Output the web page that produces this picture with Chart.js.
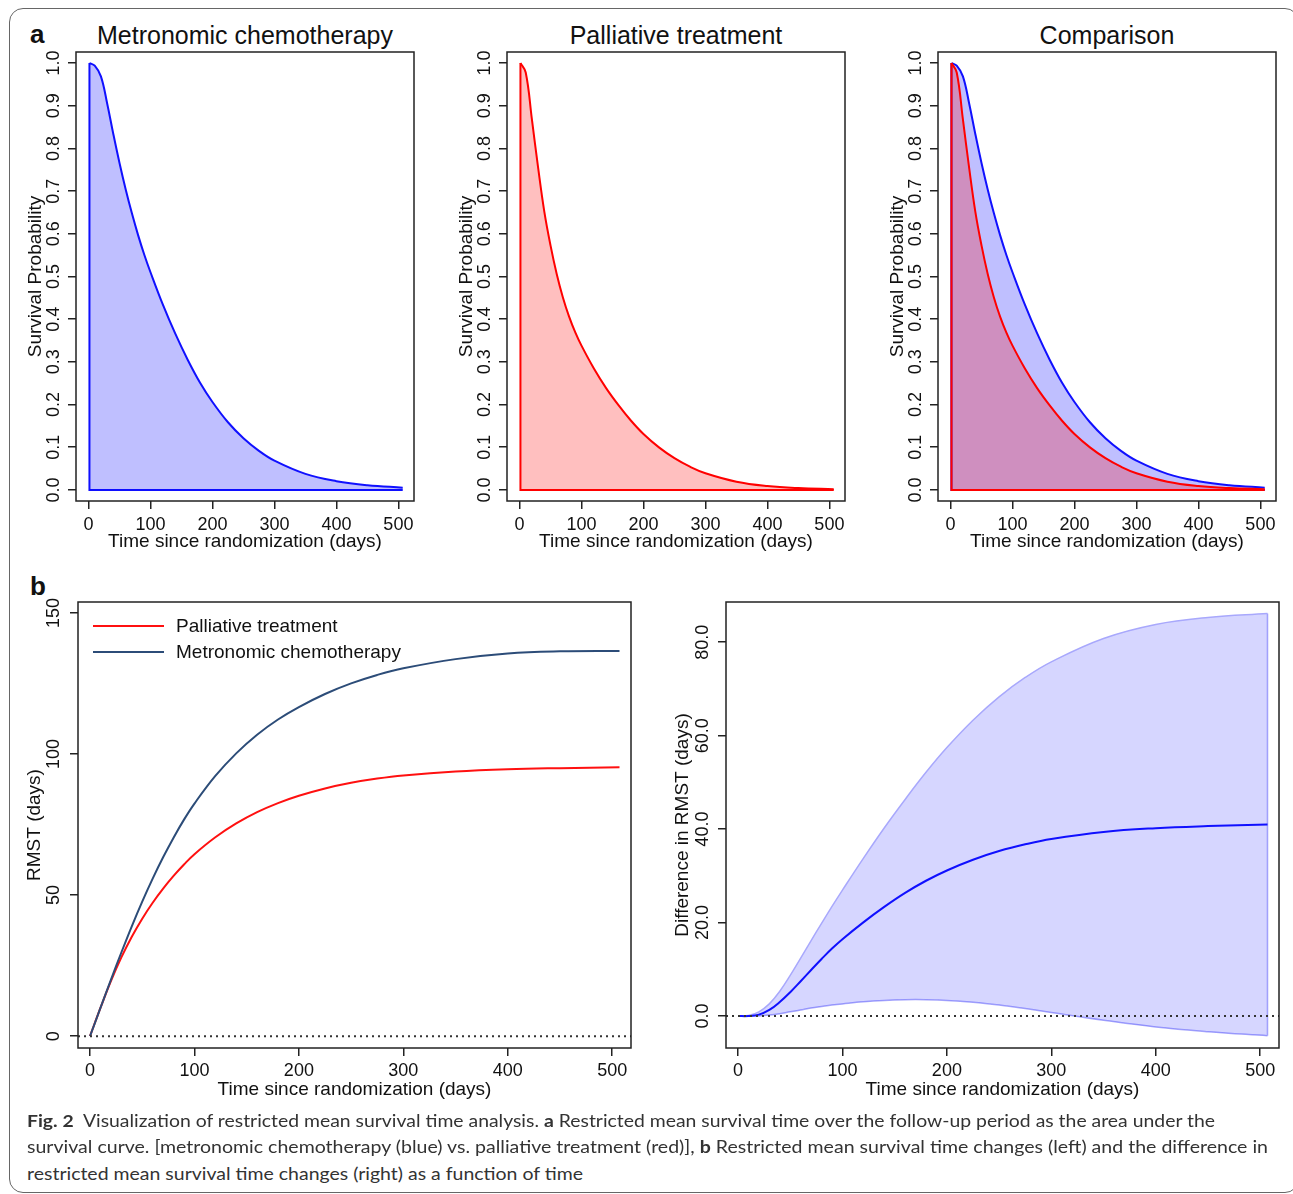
<!DOCTYPE html>
<html>
<head>
<meta charset="utf-8">
<script src="https://cdn.jsdelivr.net/npm/chart.js@4.4.1/dist/chart.umd.min.js"></script>
<style>
  body { margin: 0; background: #fff; width: 1293px; height: 1194px; overflow: hidden; position: relative;
         font-family: 'Liberation Sans', Arial, sans-serif; color: #111; }
  .frame { position: absolute; left: 9px; top: 8px; width: 1290px; height: 1185px; border: 1px solid #666;
           border-radius: 14px; box-sizing: border-box; }
  .letter { position: absolute; font-weight: bold; font-size: 26px; line-height: 1; }
  .title { position: absolute; font-size: 25px; line-height: 1; white-space: nowrap; transform: translateX(-50%); }
  canvas { position: absolute; }
  .cap { position: absolute; left: 27px; font-family: Lato, 'Noto Sans', sans-serif; font-size: 17.5px;
         line-height: 20px; color: #333; white-space: nowrap; display: inline-block; transform-origin: 0 50%; }
</style>
</head>
<body>
<div class="frame"></div>
<div class="letter" style="left:30px; top:21px;">a</div>
<div class="letter" style="left:30px; top:573px;">b</div>
<div class="title" style="left:245px; top:23px;">Metronomic chemotherapy</div>
<div class="title" style="left:676px; top:23px;">Palliative treatment</div>
<div class="title" style="left:1107px; top:23px;">Comparison</div>

<canvas id="a1"></canvas>
<canvas id="a2"></canvas>
<canvas id="a3"></canvas>
<canvas id="b1"></canvas>
<canvas id="b2"></canvas>

<div class="cap" data-w="1188" style="top:1111px;"><b>Fig. 2</b>&nbsp; Visualization of restricted mean survival time analysis. <b>a</b> Restricted mean survival time over the follow-up period as the area under the</div>
<div class="cap" data-w="1241" style="top:1137px;">survival curve. [metronomic chemotherapy (blue) vs. palliative treatment (red)], <b>b</b> Restricted mean survival time changes (left) and the difference in</div>
<div class="cap" data-w="556" style="top:1164px;">restricted mean survival time changes (right) as a function of time</div>

<script>
// Values
const survTime = [1.5, 10, 20, 30, 40, 50, 60, 70, 80, 90, 100, 120, 140, 160, 180, 200, 225, 250, 275, 300, 350, 400, 450, 507];
const metroSurv = [1.0, 0.994, 0.969, 0.906, 0.834, 0.766, 0.704, 0.648, 0.597, 0.551, 0.510, 0.434, 0.366, 0.305, 0.251, 0.206, 0.1585, 0.121, 0.0915, 0.0685, 0.0375, 0.0205, 0.011, 0.0053];
const palSurv = [1.0, 0.978, 0.868, 0.755, 0.652, 0.573, 0.506, 0.451, 0.406, 0.369, 0.338, 0.2845, 0.238, 0.198, 0.162, 0.131, 0.0997, 0.0744, 0.0544, 0.0391, 0.0193, 0.0091, 0.0042, 0.0017];

const rmstTime = [0, 10, 20, 30, 40, 50, 60, 70, 80, 90, 100, 120, 140, 160, 180, 200, 225, 250, 275, 300, 350, 400, 450, 507];
const metroRmst = [0, 10, 19.95, 29.65, 38.95, 47.7, 55.85, 63.4, 70.35, 76.75, 82.45, 92.25, 100.25, 106.85, 112.25, 116.65, 121.3, 125.05, 128.05, 130.4, 133.65, 135.65, 136.4, 136.55];
const palRmst = [0, 10, 19.5, 27.9, 35.25, 41.65, 47.3, 52.3, 56.8, 60.85, 64.5, 70.5, 75.4, 79.4, 82.6, 85.2, 87.8, 89.8, 91.3, 92.4, 93.8, 94.6, 95.0, 95.3];
const diffMean = [0, 0, 0.3, 1.3, 3.0, 5.1, 7.45, 9.85, 12.2, 14.45, 16.45, 20.05, 23.35, 26.35, 28.95, 31.15, 33.45, 35.3, 36.75, 37.9, 39.4, 40.2, 40.65, 41.0];
const diffUpper = [0, 0.1, 0.9, 2.6, 5.3, 8.7, 12.4, 16.15, 19.85, 23.45, 26.95, 33.75, 40.25, 46.35, 52.15, 57.45, 63.3, 68.3, 72.45, 75.8, 80.8, 83.8, 85.3, 86.15];
const diffLower = [0, -0.05, 0, 0.2, 0.5, 0.9, 1.3, 1.7, 2.05, 2.35, 2.6, 3.05, 3.35, 3.5, 3.5, 3.35, 2.95, 2.35, 1.6, 0.75, -0.9, -2.35, -3.35, -4.2];

const dayTicks = [0, 100, 200, 300, 400, 500];
const dayTickLabels = ['0', '100', '200', '300', '400', '500'];
const probTicks = [0, 0.1, 0.2, 0.3, 0.4, 0.5, 0.6, 0.7, 0.8, 0.9, 1.0];
const probTickLabels = ['0.0', '0.1', '0.2', '0.3', '0.4', '0.5', '0.6', '0.7', '0.8', '0.9', '1.0'];
const rmstTicks = [0, 50, 100, 150];
const rmstTickLabels = ['0', '50', '100', '150'];
const diffTicks = [0, 20, 40, 60, 80];
const diffTickLabels = ['0.0', '20.0', '40.0', '60.0', '80.0'];

Chart.defaults.font.family = "'Liberation Sans', Arial, sans-serif";
Chart.defaults.color = '#111';

const BLUE = '#1010ff';
const RED = '#ff0000';
const PAD = 20, YW = 60, XH = 62;
const SMOOTH = 0.4;

function pts(xs, ys) {
    return xs.map((x, i) => ({ x: x, y: ys[i] }));
}

// size and place a canvas so the plot box lands on the given page rectangle
function place(canvas, box) {
    const w = box.r - box.l + YW + 2 * PAD;
    const h = box.b - box.t + XH + 2 * PAD;
    canvas.width = w;
    canvas.height = h;
    canvas.style.width = w + 'px';
    canvas.style.height = h + 'px';
    canvas.style.left = (box.l - YW - PAD) + 'px';
    canvas.style.top = (box.t - PAD) + 'px';
}

const tickGrid = { drawOnChartArea: false, drawTicks: true, tickLength: 8, color: '#222', lineWidth: 1.5 };

function scalesFor(o) {
    return {
        x: {
            type: 'linear', min: o.xMin, max: o.xMax,
            afterBuildTicks: s => { s.ticks = dayTicks.map(v => ({ value: v })); },
            afterFit: s => { s.height = XH; },
            grid: tickGrid,
            border: { display: false },
            ticks: { font: { size: 18 }, padding: o.xPad, maxRotation: 0, autoSkip: false,
                     callback: (v, i) => dayTickLabels[i] },
            title: { display: true, text: 'Time since randomization (days)', font: { size: 19 },
                     padding: { top: 0, bottom: o.xTitlePad } }
        },
        y: {
            type: 'linear', min: o.yMin, max: o.yMax,
            afterBuildTicks: s => { s.ticks = o.yTicks.map(v => ({ value: v })); },
            afterFit: s => { s.width = YW; },
            grid: tickGrid,
            border: { display: false },
            ticks: { font: { size: 18 }, padding: o.yPad, minRotation: 90, maxRotation: 90,
                     crossAlign: 'center', autoSkip: false, callback: (v, i) => o.yLabels[i] },
            title: { display: true, text: o.yTitle, font: { size: 19 },
                     padding: { top: o.yTitlePad, bottom: 0 } }
        }
    };
}

// R style box around the plot region
const boxPlugin = {
    id: 'rbox',
    afterDraw(chart) {
        const { ctx, chartArea: a } = chart;
        ctx.save();
        ctx.strokeStyle = '#222';
        ctx.lineWidth = 1.5;
        ctx.strokeRect(a.left, a.top, a.right - a.left, a.bottom - a.top);
        ctx.restore();
    }
};

// dotted reference line at y = 0
const zeroLine = {
    id: 'zeroLine',
    afterDatasetsDraw(chart) {
        const { ctx, chartArea: a, scales } = chart;
        const y = scales.y.getPixelForValue(0);
        ctx.save();
        ctx.strokeStyle = '#333';
        ctx.lineWidth = 2;
        ctx.setLineDash([2, 4]);
        ctx.beginPath();
        ctx.moveTo(a.left, y);
        ctx.lineTo(a.right, y);
        ctx.stroke();
        ctx.restore();
    }
};

// legend drawn inside the box, top left
const innerLegend = {
    id: 'innerLegend',
    afterDraw(chart) {
        const { ctx, chartArea: a } = chart;
        ctx.save();
        ctx.font = "19px 'Liberation Sans', Arial, sans-serif";
        ctx.textBaseline = 'middle';
        ctx.fillStyle = '#111';
        chart.data.datasets.forEach((ds, i) => {
            const y = a.top + 24 + i * 26;
            ctx.strokeStyle = ds.borderColor;
            ctx.lineWidth = 2;
            ctx.beginPath();
            ctx.moveTo(a.left + 15, y);
            ctx.lineTo(a.left + 86, y);
            ctx.stroke();
            ctx.fillText(ds.label, a.left + 98, y + 1);
        });
        ctx.restore();
    }
};

const common = {
    responsive: false,
    animation: false,
    devicePixelRatio: 1,
    layout: { padding: PAD },
    elements: { point: { radius: 0 } },
    plugins: { legend: { display: false }, tooltip: { enabled: false } }
};

// survival curve filled down to zero, plus the polygon edges
function survSets(ys, color, fillColor, order) {
    const last = survTime.length - 1;
    return [
        { data: pts(survTime, ys), borderColor: color, borderWidth: 2, backgroundColor: fillColor,
          fill: 'origin', tension: SMOOTH, order: order },
        { data: [{ x: survTime[0], y: ys[0] }, { x: survTime[0], y: 0 }, { x: survTime[last], y: 0 }],
          borderColor: color, borderWidth: 2, fill: false, tension: 0, order: order }
    ];
}

const survAxes = {
    xMin: -20.2, xMax: 525.2, xPad: 5, xTitlePad: 9.6,
    yMin: -0.026, yMax: 1.026, yTicks: probTicks, yLabels: probTickLabels,
    yTitle: 'Survival Probability', yPad: 1.5, yTitlePad: 8
};

function survChart(id, box, datasets) {
    const cv = document.getElementById(id);
    place(cv, box);
    new Chart(cv, {
        type: 'line',
        data: { datasets: datasets },
        options: Object.assign({}, common, { scales: scalesFor(survAxes) }),
        plugins: [boxPlugin]
    });
}

survChart('a1', { l: 76, t: 52, r: 414, b: 501 },
    survSets(metroSurv, BLUE, 'rgba(0,0,255,0.25)', 0));
survChart('a2', { l: 507, t: 52, r: 845, b: 501 },
    survSets(palSurv, RED, 'rgba(255,0,0,0.25)', 0));
survChart('a3', { l: 938, t: 52, r: 1276, b: 501 },
    survSets(palSurv, RED, 'rgba(255,0,0,0.25)', 0).concat(
        survSets(metroSurv, BLUE, 'rgba(0,0,255,0.25)', 1)));

// RMST over time
const b1 = document.getElementById('b1');
place(b1, { l: 78, t: 602, r: 631, b: 1048 });
new Chart(b1, {
    type: 'line',
    data: {
        datasets: [
            { label: 'Palliative treatment', data: pts(rmstTime, palRmst), borderColor: '#ff1010',
              borderWidth: 2, fill: false, tension: SMOOTH, order: 1 },
            { label: 'Metronomic chemotherapy', data: pts(rmstTime, metroRmst), borderColor: '#2c4c78',
              borderWidth: 2, fill: false, tension: SMOOTH, order: 0 }
        ]
    },
    options: Object.assign({}, common, {
        scales: scalesFor({
            xMin: -11.5, xMax: 518, xPad: 4, xTitlePad: 8.6,
            yMin: -4.2, yMax: 153.9, yTicks: rmstTicks, yLabels: rmstTickLabels,
            yTitle: 'RMST (days)', yPad: 1, yTitlePad: 5.6
        })
    }),
    plugins: [boxPlugin, zeroLine, innerLegend]
});

// difference in RMST with its confidence band
const BAND_LINE = '#a8a8fc';
const b2 = document.getElementById('b2');
place(b2, { l: 726, t: 602, r: 1279, b: 1048 });
const lastT = rmstTime.length - 1;
new Chart(b2, {
    type: 'line',
    data: {
        datasets: [
            { data: pts(rmstTime, diffMean), borderColor: BLUE, borderWidth: 2, fill: false,
              tension: SMOOTH, order: 0 },
            { data: pts(rmstTime, diffUpper), borderColor: BAND_LINE, borderWidth: 1.5,
              backgroundColor: 'rgba(0,0,255,0.16)', fill: 2, tension: SMOOTH, order: 1 },
            { data: pts(rmstTime, diffLower), borderColor: BAND_LINE, borderWidth: 1.5, fill: false,
              tension: SMOOTH, order: 1 },
            { data: [{ x: rmstTime[lastT], y: diffLower[lastT] }, { x: rmstTime[lastT], y: diffUpper[lastT] }],
              borderColor: BAND_LINE, borderWidth: 1.5, fill: false, tension: 0, order: 1 }
        ]
    },
    options: Object.assign({}, common, {
        scales: scalesFor({
            xMin: -11.5, xMax: 518, xPad: 4, xTitlePad: 8.6,
            yMin: -6.84, yMax: 88.6, yTicks: diffTicks, yLabels: diffTickLabels,
            yTitle: 'Difference in RMST (days)', yPad: -2.5, yTitlePad: 5.6
        })
    }),
    plugins: [boxPlugin, zeroLine]
});

// stretch caption lines to the widths of the original
document.querySelectorAll('.cap').forEach(el => {
    const w = el.getBoundingClientRect().width;
    el.style.transform = 'scaleX(' + (+el.dataset.w / w) + ')';
});
</script>
</body>
</html>
